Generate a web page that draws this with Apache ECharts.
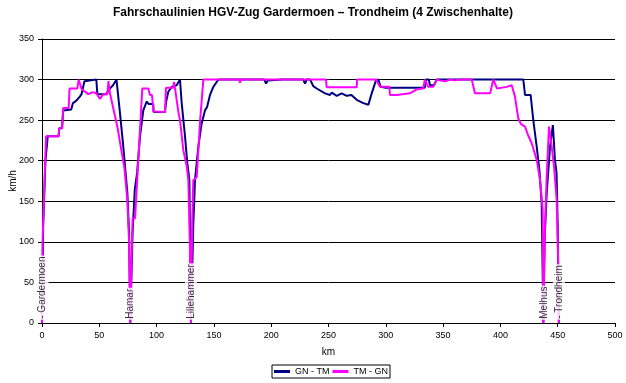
<!DOCTYPE html>
<html>
<head>
<meta charset="utf-8">
<script src="https://cdn.jsdelivr.net/npm/echarts@6/dist/echarts.min.js"></script>
<style>
html,body{margin:0;padding:0;background:#fff;}
#c{width:626px;height:383px;}
</style>
</head>
<body>
<div id="c"></div>
<script>
// ---- data ----
const titleText = 'Fahrschaulinien HGV-Zug Gardermoen \u2013 Trondheim (4 Zwischenhalte)';
const seriesNames = ['GN - TM', 'TM - GN'];
const xTicks = [0, 50, 100, 150, 200, 250, 300, 350, 400, 450, 500];
const yTicks = [0, 50, 100, 150, 200, 250, 300, 350];

// GN - TM : [km, km/h]
const gnTm = [
  [0,0],[1,120],[3,200],[5,230],[14.5,230],[15,240],[17.5,240],[18.5,262],[25.5,263],[27,271],[30,274],
  [33,279],[34.5,282],[37,298],[38,300],[47.4,300],[48.3,282],[56,282],[60,290],[62,293],[65,300],
  [67.8,262],[70.7,221],[72.7,189],[74.5,160],[76,110],[77,0],
  [79,110],[81,165],[83,185],[85.5,230],[88.4,262],[91.4,273],[93,270],[97,270],[97.5,260],[107.3,260],
  [108.2,272],[110.2,285],[113.2,291],[117.5,293],[120.4,300],[121.9,271],[124.8,230],[126.8,197],[128.6,176],[130,0],
  [132,120],[133.5,176],[136.4,217],[139.3,246],[142.2,262],[144,266],[146.6,281],[149.5,291],[152.4,297],[154,300],
  [194,300],[195.5,295],[197,299],[210,300],[228,300],[229.5,295],[231,300],[234,300],[236.7,292],[239.7,289],
  [241,287],[247,283],[251.3,281],[252.8,284],[254.2,284],[257.2,280],[258.6,280],[261.5,283],[262.9,283],
  [265.9,280],[267.3,280],[270,281],[274.6,275],[276,276],[280.4,271],[284.8,269],[287.7,283],[291.4,299],
  [293.5,300],[295.5,291],[300,290],[334,290],[335,300],[337.5,300],[338.6,293],[342,293],[344.4,300],
  [420,300],[421.5,281],[426.4,281],[428.7,250],[431.7,217],[434,189],[436,148],[437.5,0],
  [438.5,100],[440.4,160],[443.3,217],[445.8,244],[447.6,201],[449,185],[450,120],[451,0]
];

// TM - GN : [km, km/h]
const tmGn = [
  [0,0],[0.5,100],[3.5,230],[14.5,230],[15,240],[17.5,240],[18.5,265],[23.3,265],[24,289],[30.8,289],[32,300],
  [32.7,300],[34.6,288],[40.4,282],[43,284],[46,284],[48,282],[50.6,276],[53.5,282],[57,282],[58,298],[59,285],
  [63.7,255],[66,240],[69,215],[72,190],[74.5,150],[76,100],[77,0],
  [78.5,100],[79.1,129],[81.2,129],[84,200],[87.5,289],[92.8,289],[94.2,281],[96,281],[97.2,260.5],[107.3,260],
  [108.2,290],[114.6,290],[115.2,297],[116,290],[119,260],[120.4,250],[123.3,213],[126.3,193],[127.7,176],[129,100],[130,0],
  [131,120],[132,176],[135,180],[138,250],[140.8,300],[172,300],[172.8,296],[173.6,300],[247.8,300],[248.4,290.5],
  [274.6,290.5],[275,300],[291.4,300],[295,291],[303,291],[303.7,281],[309.5,281],[310,283],[321,283],[322.6,285],
  [327,288],[332.7,289],[334,300],[335.7,299],[337,291],[341.4,291],[344.4,300],[347,299],[352,298],[356,300],
  [360,299],[365,300],[375,300],[377.8,283],[391,283],[393.8,300],[395,296],[397,289],[405.5,291],[409.9,293],
  [412.7,279],[415.6,252],[418,245],[421.5,242],[424,232],[427.3,221.5],[431.7,201],[434.6,176],[436.9,139],[437.4,0],
  [438.9,118],[440.4,180],[442.4,242],[444.8,217],[446.8,193],[449.1,152],[450.6,65],[451,0]
];

const stationNames = ['- Gardermoen', 'Hamar', 'Lillehammer', 'Melhus', '- Trondheim'];
const stationKm = [0.5, 77, 130, 438, 451];

// ---- chart ----
const FONT = '"Liberation Sans", Arial, sans-serif';
const LABEL_BASE = 4;
const chart = echarts.init(document.getElementById('c'), null, {renderer: 'canvas'});
chart.setOption({
  animation: false,
  backgroundColor: '#fff',
  textStyle: {fontFamily: FONT},
  title: {
    text: titleText, left: 'center', top: 7, padding: 0,
    textStyle: {fontFamily: FONT, fontSize: 12, fontWeight: 'bold', color: '#000'}
  },
  legend: {
    data: seriesNames.map(n => ({name: n, icon: 'rect'})),
    left: 272, top: 365,
    itemWidth: 16, itemHeight: 3, itemGap: 3,
    borderColor: '#000', borderWidth: 1, padding: [2, 2],
    textStyle: {fontFamily: FONT, fontSize: 9, color: '#000'}
  },
  grid: {left: 42, right: 11, top: 39, bottom: 60, containLabel: false, outerBoundsMode: 'none'},
  xAxis: {
    type: 'value', min: xTicks[0], max: xTicks[xTicks.length - 1], interval: 50,
    name: 'km', nameLocation: 'middle', nameGap: 24, nameMoveOverlap: false,
    nameTextStyle: {fontFamily: FONT, fontSize: 10, color: '#000'},
    axisLine: {show: true, lineStyle: {color: '#000', width: 1}},
    axisTick: {show: true, length: 4, lineStyle: {color: '#000'}},
    axisLabel: {fontFamily: FONT, fontSize: 9, color: '#000', margin: 8},
    splitLine: {show: false}
  },
  yAxis: {
    type: 'value', min: yTicks[0], max: yTicks[yTicks.length - 1], interval: 50,
    name: 'km/h', nameLocation: 'middle', nameGap: 24, nameMoveOverlap: false,
    nameTextStyle: {fontFamily: FONT, fontSize: 10, color: '#000'},
    axisLine: {show: true, lineStyle: {color: '#000', width: 1}},
    axisTick: {show: true, length: 4, lineStyle: {color: '#000'}},
    axisLabel: {fontFamily: FONT, fontSize: 9, color: '#000', margin: 8},
    splitLine: {show: true, lineStyle: {color: '#000', width: 1}}
  },
  series: [
    {
      name: seriesNames[0], type: 'line', data: gnTm, showSymbol: false, symbol: 'none',
      lineStyle: {color: '#000080', width: 2}, itemStyle: {color: '#000080'}, z: 3
    },
    {
      name: seriesNames[1], type: 'line', data: tmGn, showSymbol: false, symbol: 'none',
      lineStyle: {color: '#FF00FF', width: 2}, itemStyle: {color: '#FF00FF'}, z: 4
    },
    {
      name: 'stations', type: 'scatter', symbolSize: 0, z: 10, silent: true,
      data: stationKm.map((k, i) => ({value: [k, LABEL_BASE], name: stationNames[i]})),
      label: {
        show: true, position: 'inside', rotate: 90, align: 'left', verticalAlign: 'middle',
        formatter: p => p.name, fontFamily: FONT, fontSize: 10, color: '#000',
        backgroundColor: '#fff', padding: [1, 1, 1, 1]
      }
    }
  ]
});
</script>
</body>
</html>
